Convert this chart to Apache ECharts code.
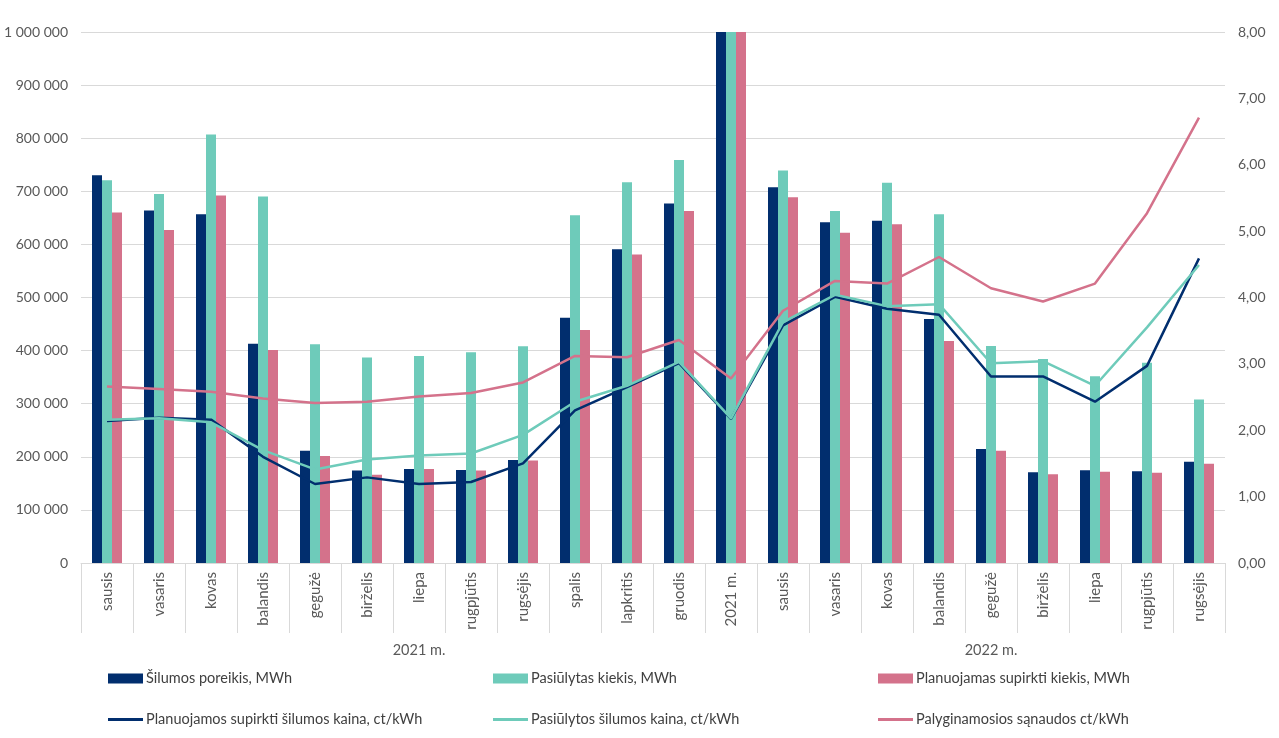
<!DOCTYPE html>
<html><head><meta charset="utf-8">
<script src="https://cdn.jsdelivr.net/npm/echarts@6/dist/echarts.min.js"></script>
<style>html,body{margin:0;padding:0;background:#fff}#c{width:1279px;height:738px}</style>
</head><body><div id="c"></div>
<script>
// ---- data ----
const months = ['sausis','vasaris','kovas','balandis','gegužė','birželis','liepa','rugpjūtis','rugsėjis','spalis','lapkritis','gruodis','2021 m.',
                'sausis','vasaris','kovas','balandis','gegužė','birželis','liepa','rugpjūtis','rugsėjis'];
const groups = ['2021 m.', '2022 m.'];
const groupSizes = [13, 9];
const seriesNames = ['Šilumos poreikis, MWh','Pasiūlytas kiekis, MWh','Planuojamas supirkti kiekis, MWh',
                     'Planuojamos supirkti šilumos kaina, ct/kWh','Pasiūlytos šilumos kaina, ct/kWh','Palyginamosios sąnaudos ct/kWh'];
const demand  = [730000,664000,657000,413000,211500,174000,177000,175000,194000,462000,591000,677000,1000000,
                 707500,641600,644600,459500,214700,170800,174500,172600,190800];
const offered = [721000,695000,807000,690000,412000,387000,390000,397000,408000,655000,717000,759000,1000000,
                 739000,663000,716000,657000,408700,384000,351600,377000,308000];
const planned = [660000,627000,692000,401000,201500,166000,177000,174000,193000,439000,581000,663000,1000000,
                 689000,622000,638000,418000,211500,167000,172000,170000,187000];
const pricePlanned = [2.14,2.19,2.16,1.60,1.19,1.29,1.19,1.22,1.50,2.30,2.65,3.01,2.17,
                      3.58,4.01,3.83,3.74,2.81,2.81,2.43,2.97,4.59];
const priceOffered = [2.16,2.18,2.12,1.70,1.41,1.56,1.62,1.65,1.93,2.43,2.67,3.03,2.18,
                      3.63,4.04,3.87,3.90,3.01,3.04,2.67,3.55,4.49];
const comparable   = [2.66,2.62,2.58,2.48,2.41,2.43,2.51,2.56,2.72,3.12,3.10,3.36,2.78,
                      3.80,4.25,4.21,4.61,4.14,3.94,4.21,5.27,6.71];
const leftTicks = {min:0, max:1000000, interval:100000};
const rightTicks = {min:0, max:8, interval:1};

// ---- styles ----
const C_NAVY = '#012E6E', C_TEAL = '#6ECBBA', C_PINK = '#D4728B';
const TXT = '#595959', GRID = '#D9D9D9';
const FONT = 'Lato, "Open Sans", sans-serif';

// group boundaries / centers derived from group sizes (in category units)
const bounds = [0]; groupSizes.forEach(s => bounds.push(bounds[bounds.length-1] + s));
const centers = groupSizes.map((s, i) => bounds[i] + s / 2);

function fmtThousands(v){ return String(Math.round(v)).replace(/\B(?=(\d{3})+(?!\d))/g, ' '); }

const chart = echarts.init(document.getElementById('c'), null, {renderer:'canvas'});
const barBase = {type:'bar', xAxisIndex:0, yAxisIndex:0, barWidth:10, barGap:'0%', clip:true};
const lineBase = {type:'line', xAxisIndex:0, yAxisIndex:1, symbol:'none', smooth:false};

const legendPos = [[108,671],[493,671],[878,671],[108,712],[493,712],[878,712]];
const legends = seriesNames.map((n, i) => ({
  data:[n], left:legendPos[i][0], top:legendPos[i][1], padding:0,
  icon:'rect', itemWidth:35, itemHeight: i < 3 ? 10 : 3,
  itemGap:0, textStyle:{color:'#404040', fontSize:14.5, fontFamily:FONT, padding:[0,0,0,-2]},
  selectedMode:false
}));

chart.setOption({
  animation:false,
  backgroundColor:'#fff',
  grid:{left:81, right:54, top:32, bottom:175, containLabel:false},
  legend: legends,
  xAxis:[
    {type:'category', data:months, position:'bottom',
     axisLine:{show:true, lineStyle:{color:GRID, width:1}},
     axisTick:{show:true, interval:0, length:70, lineStyle:{color:GRID}},
     axisLabel:{interval:0, rotate:90, margin:9, color:TXT, fontSize:15, fontFamily:FONT},
     splitLine:{show:false}},
    {type:'value', min:0, max:bounds[bounds.length-1], position:'bottom', offset:70,
     axisLine:{show:false},
     axisTick:{show:true, length:29, customValues:bounds, lineStyle:{color:GRID}},
     axisLabel:{show:true, customValues:centers, margin:10, color:TXT, fontSize:14.5, fontFamily:FONT,
                formatter:(v) => groups[centers.indexOf(v)] || ''},
     splitLine:{show:false}}
  ],
  yAxis:[
    {type:'value', min:leftTicks.min, max:leftTicks.max, interval:leftTicks.interval, position:'left',
     axisLine:{show:false}, axisTick:{show:false},
     axisLabel:{color:TXT, fontSize:14, fontFamily:FONT, margin:13, formatter:fmtThousands},
     splitLine:{show:true, lineStyle:{color:GRID, width:1}}},
    {type:'value', min:rightTicks.min, max:rightTicks.max, interval:rightTicks.interval, position:'right',
     axisLine:{show:false}, axisTick:{show:false},
     axisLabel:{color:TXT, fontSize:14, fontFamily:FONT, margin:13, formatter:(v)=>v.toFixed(2).replace('.', ',')},
     splitLine:{show:false}}
  ],
  series:[
    Object.assign({}, barBase, {name:seriesNames[0], data:demand, itemStyle:{color:C_NAVY}}),
    Object.assign({}, barBase, {name:seriesNames[1], data:offered, itemStyle:{color:C_TEAL}}),
    Object.assign({}, barBase, {name:seriesNames[2], data:planned, itemStyle:{color:C_PINK}}),
    Object.assign({}, lineBase, {name:seriesNames[3], data:pricePlanned, itemStyle:{color:C_NAVY}, lineStyle:{width:2.5, color:C_NAVY}}),
    Object.assign({}, lineBase, {name:seriesNames[4], data:priceOffered, itemStyle:{color:C_TEAL}, lineStyle:{width:2.5, color:C_TEAL}}),
    Object.assign({}, lineBase, {name:seriesNames[5], data:comparable, itemStyle:{color:C_PINK}, lineStyle:{width:2.5, color:C_PINK}})
  ]
});
</script></body></html>
